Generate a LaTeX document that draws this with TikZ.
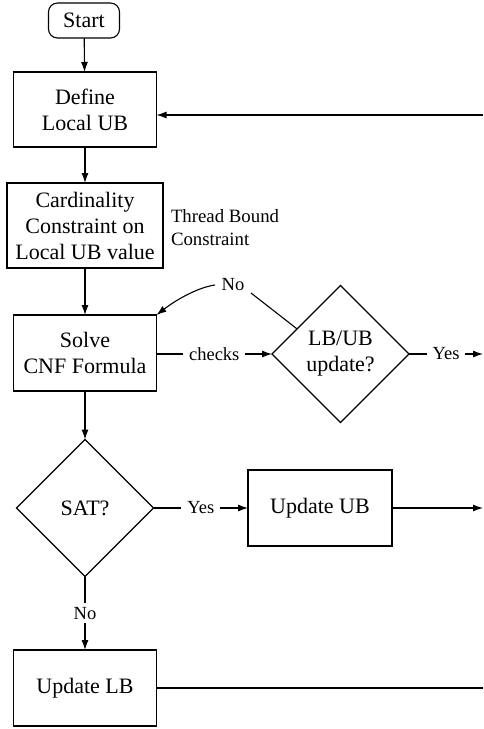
\documentclass[tikz,border=0pt]{standalone}
\usepackage{fontspec}
\setmainfont{Liberation Serif}
\usetikzlibrary{shapes.geometric,arrows.meta}

\newcommand\flowfont{\fontsize{22}{26}\selectfont}
\newcommand\notefont{\fontsize{18.8}{23}\selectfont}
\newcommand\edgefont{\fontsize{18.5}{22}\selectfont}

\begin{document}
\begin{tikzpicture}[x=1pt,y=-1pt,
  every node/.style={inner sep=0pt, outer sep=0pt},
  stepbox/.style={draw, line width=1.1pt, align=center, font=\flowfont},
  termbox/.style={draw, line width=1.1pt, rounded corners=9pt, font=\flowfont,
    minimum width=71pt, minimum height=35pt},
  decision/.style={draw, diamond, aspect=1, line width=1.1pt, align=center,
    font=\flowfont, minimum size=137pt},
  link/.style={line width=1.1pt},
  arr/.style={line width=1.1pt, -{Latex[length=10pt,width=7pt]}},
  lab/.style={fill=white, font=\edgefont, inner xsep=6pt, inner ysep=4pt},
]
\useasboundingbox (0,0) rectangle (483,729);

% flowchart steps
\node[termbox] (start) at (84,20.5) {Start};
\node[stepbox, minimum width=143pt, minimum height=75pt] (define) at (85,109.5) {Define\\Local UB};
\node[stepbox, minimum width=156pt, minimum height=85pt] (card) at (85,225.5)
  {Cardinality\\Constraint on\\Local UB value};
\node[anchor=west, align=left, font=\notefont] (thread) at (171,228) {Thread Bound\\Constraint};
\node[stepbox, minimum width=143pt, minimum height=76pt] (solve) at (85,353) {Solve\\CNF Formula};
\node[decision] (lbub) at (340.5,354) {LB/UB\\update?};
\node[decision] (sat) at (85,508) {SAT?};
\node[stepbox, minimum width=144pt, minimum height=76pt] (uub) at (320,508) {Update UB};
\node[stepbox, minimum width=143pt, minimum height=76pt] (ulb) at (85,688) {Update LB};
\node[font=\edgefont] (nolab) at (233,285) {No};

% free ends at the right border
\coordinate (edgeDef) at (483,115);
\coordinate (edgeYes) at (483,354);
\coordinate (edgeUUB) at (483,508);
\coordinate (edgeULB) at (483,688);

% connectors
\draw[arr] (start) -- (define);
\draw[arr] (define) -- (card);
\draw[arr] (card) -- (solve);
\draw[arr] (solve) -- (sat);
\draw[arr] (solve.east |- lbub.west) -- node[lab] {checks} (lbub.west);
\draw[arr] (lbub.east) -- node[lab] {Yes} (edgeYes);
\draw[link] (lbub.150) -- ([xshift=18pt,yshift=-8pt]nolab.center);
\draw[arr] ([xshift=-18pt]nolab.center) .. controls +(-15,2) and +(22,-17) .. (solve.north east);
\draw[arr] (sat.east) -- node[lab] {Yes} (uub.west);
\draw[arr] (uub.east) -- (edgeUUB);
\draw[arr] (sat.south) -- node[lab] {No} (ulb.north);
\draw[link] (ulb.east) -- (edgeULB);
\draw[arr] (edgeDef) -- (edgeDef -| define.east);
\end{tikzpicture}
\end{document}
